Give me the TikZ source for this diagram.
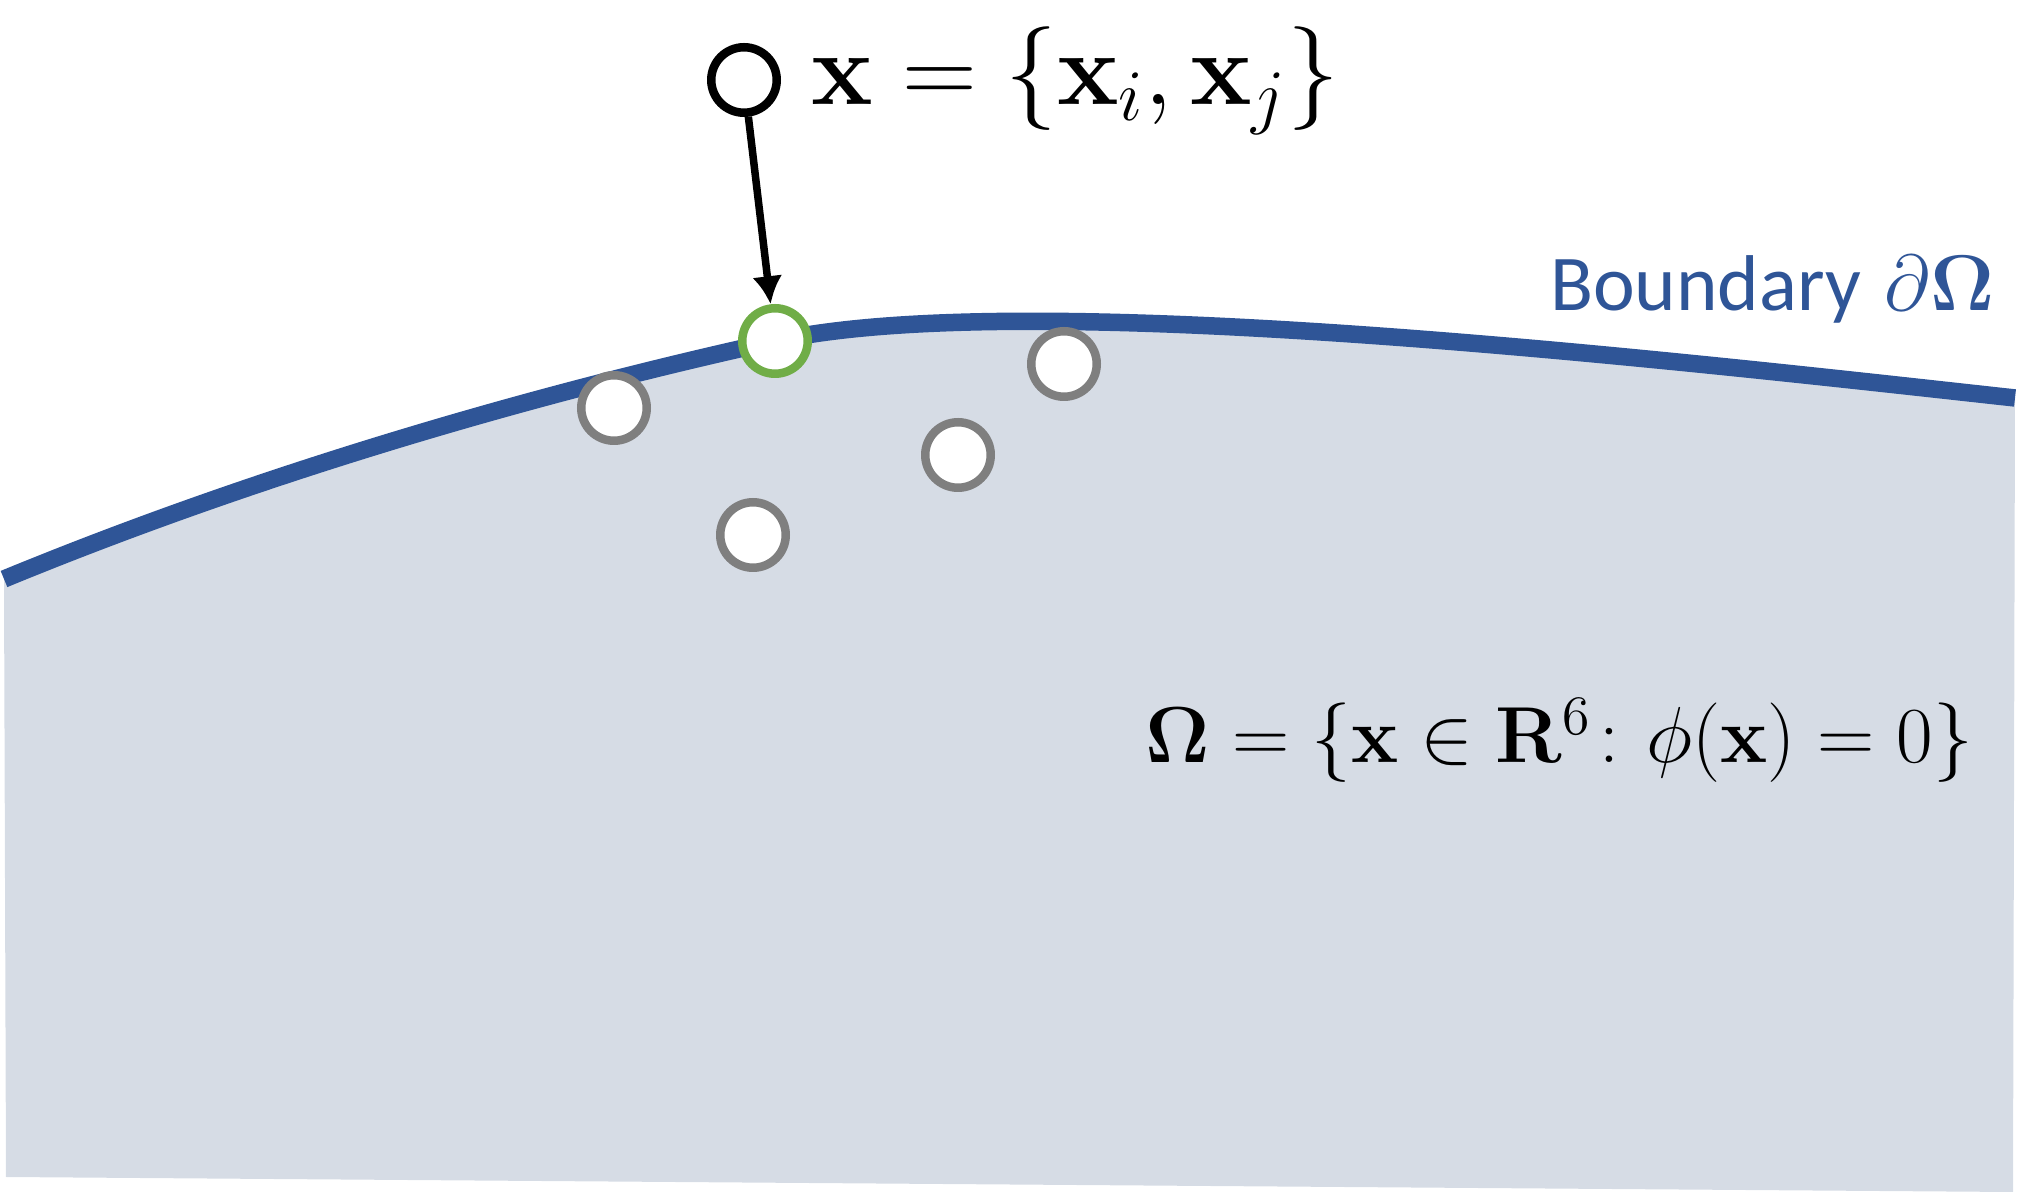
\RequirePackage{fix-cm}
\documentclass[tikz,border=0pt]{standalone}
\usepackage{amsmath,amssymb}
\usepackage[no-math]{fontspec}
\newfontfamily\calibri{Carlito}
\usepackage{tikz}
\usetikzlibrary{arrows.meta}
\definecolor{bndblue}{HTML}{2F5597}
\definecolor{domfill}{HTML}{D6DCE5}
\definecolor{hitgreen}{HTML}{70AD47}
\definecolor{ptgray}{HTML}{7F7F7F}

\begin{document}
\begin{tikzpicture}[x=0.1mm, y=-0.1mm,
    sample/.style={circle, draw=ptgray, fill=white, line width=0.85mm,
                   minimum size=6.55mm, inner sep=0pt},
    >={Latex[length=2.8mm, width=3mm]}]
    \useasboundingbox (0,0) rectangle (2035,1192);
    % the domain and its boundary
    \fill[domfill] (4,579) .. controls (254,476) and (525,396) .. (775,341)
          .. controls (1025,286) and (1665,359.5) .. (2015,398)
          -- (2013,1192) -- (6,1177) -- cycle;
    \draw[bndblue, line width=1.75mm] (4,579) .. controls (254,476) and (525,396) .. (775,341)
          .. controls (1025,286) and (1665,359.5) .. (2015,398);
    % samples inside the domain
    \node[sample] (s1) at (614,408) {};
    \node[sample] (s2) at (1064,364) {};
    \node[sample] (s3) at (958,455) {};
    \node[sample] (s4) at (753,535) {};
    % the sample that hits the boundary
    \node[sample, draw=hitgreen] (hit) at (775,341) {};
    \node[sample, draw=black] (obs) at (744,80) {};
    \draw[->, line width=0.75mm] (obs) -- (hit);
    % labels
    \node[anchor=base west, inner sep=0pt] (setlbl) at (811,105)
        {\fontsize{29.5}{35}\selectfont $\mathbf{x} = \{\mathbf{x}_i, \mathbf{x}_j\}$};
    \node[anchor=base east, inner sep=0pt, text=bndblue] (bndlbl) at (1995,311)
        {\fontsize{22.5}{27}\selectfont {\calibri Boundary} $\partial\mathbf{\Omega}$};
    \node[anchor=base west, inner sep=0pt] (domlbl) at (1145,763)
        {\fontsize{22.6}{27}\selectfont $\mathbf{\Omega} = \{\mathbf{x} \in \mathbf{R}^6\colon \phi(\mathbf{x}) = 0\}$};
\end{tikzpicture}
\end{document}
